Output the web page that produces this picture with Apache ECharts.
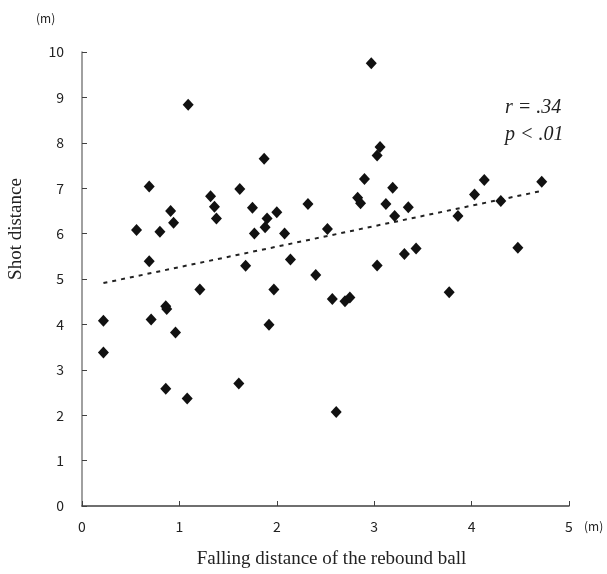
<!DOCTYPE html>
<html>
<head>
<meta charset="utf-8">
<script src="https://cdn.jsdelivr.net/npm/echarts@6/dist/echarts.min.js"></script>
<style>
html,body{margin:0;padding:0;background:#fff;}
#chart{width:607px;height:574px;}
</style>
</head>
<body>
<div id="chart"></div>
<script>
// Falling distance of the rebound ball (m)
var fallDist = [0.22,0.22,0.56,0.69,0.69,0.71,0.80,0.86,0.87,0.86,0.91,0.94,0.96,1.08,1.09,1.21,1.32,1.36,1.38,1.61,1.62,1.68,1.75,1.77,1.87,1.88,1.90,1.92,1.97,2.00,2.08,2.14,2.32,2.40,2.52,2.57,2.61,2.70,2.75,2.83,2.86,2.90,2.97,3.03,3.06,3.03,3.12,3.19,3.21,3.31,3.35,3.43,3.77,3.86,4.03,4.13,4.30,4.475,4.72];
// Shot distance (m)
var shotDist = [4.08,3.38,6.08,7.04,5.39,4.11,6.04,4.40,4.34,2.58,6.50,6.24,3.82,2.37,8.84,4.77,6.82,6.59,6.33,2.70,6.98,5.29,6.57,6.00,7.65,6.14,6.33,3.99,4.77,6.47,6.00,5.43,6.65,5.09,6.10,4.56,2.07,4.51,4.59,6.79,6.67,7.20,9.75,7.72,7.91,5.30,6.65,7.01,6.39,5.55,6.58,5.67,4.71,6.39,6.86,7.18,6.72,5.69,7.14];
// Trend line endpoints
var trendX = [0.22, 4.72];
var trendY = [4.91, 6.94];
var xTicks = [0,1,2,3,4,5];
var yTicks = [0,1,2,3,4,5,6,7,8,9,10];
var statLines = ['r = .34', 'p < .01'];
var xTitle = 'Falling distance of the rebound ball';
var yTitle = 'Shot distance';
var unitLabel = '(m)';

var pts = fallDist.map(function(x,i){return [x, shotDist[i]];});
var trend = trendX.map(function(x,i){return [x, trendY[i]];});

var chart = echarts.init(document.getElementById('chart'), null, {renderer:'canvas'});
var sans = 'Noto Sans CJK JP';
var serif = 'Liberation Serif';
chart.setOption({
  animation:false,
  backgroundColor:'#fff',
  grid:{left:82, right:38, top:52, bottom:62, containLabel:false},
  xAxis:{
    type:'value', min:xTicks[0], max:xTicks[xTicks.length-1], interval:1,
    splitLine:{show:false},
    axisLine:{show:true, onZero:false, lineStyle:{color:'#404040', width:1.5}},
    axisTick:{show:true, inside:true, length:5, lineStyle:{color:'#404040', width:1}},
    axisLabel:{color:'#222', fontFamily:sans, fontSize:14, margin:14},
    name:xTitle, nameLocation:'middle', nameGap:44,
    nameTextStyle:{fontFamily:serif, fontSize:19, color:'#222', padding:[0,0,0,12]}
  },
  yAxis:{
    type:'value', min:yTicks[0], max:yTicks[yTicks.length-1], interval:1,
    splitLine:{show:false},
    axisLine:{show:true, onZero:false, lineStyle:{color:'#808080', width:1.5}},
    axisTick:{show:true, inside:true, length:5, lineStyle:{color:'#404040', width:1}},
    axisLabel:{color:'#222', fontFamily:sans, fontSize:14, margin:18}
  },
  graphic:[
    {type:'text', x:16, y:229, rotation:Math.PI/2,
     style:{text:yTitle, font:'19px "'+serif+'"', fill:'#222', align:'center', verticalAlign:'middle'}},
    {type:'text', left:36, top:12, style:{text:unitLabel, font:'12px "'+sans+'"', fill:'#222'}},
    {type:'text', left:584, top:520, style:{text:unitLabel, font:'12px "'+sans+'"', fill:'#222'}},
    {type:'text', left:505, top:98, style:{text:statLines[0], font:'italic 20px "'+serif+'"', fill:'#222'}},
    {type:'text', left:505, top:125, style:{text:statLines[1], font:'italic 20px "'+serif+'"', fill:'#222'}}
  ],
  series:[
    {type:'line', data:trend, symbol:'none', silent:true,
     lineStyle:{color:'#222', width:2, type:[4,5]}, z:1},
    {type:'scatter', data:pts, symbol:'diamond', symbolSize:[11,12],
     itemStyle:{color:'#111', opacity:1}, z:2}
  ]
});
</script>
</body>
</html>
